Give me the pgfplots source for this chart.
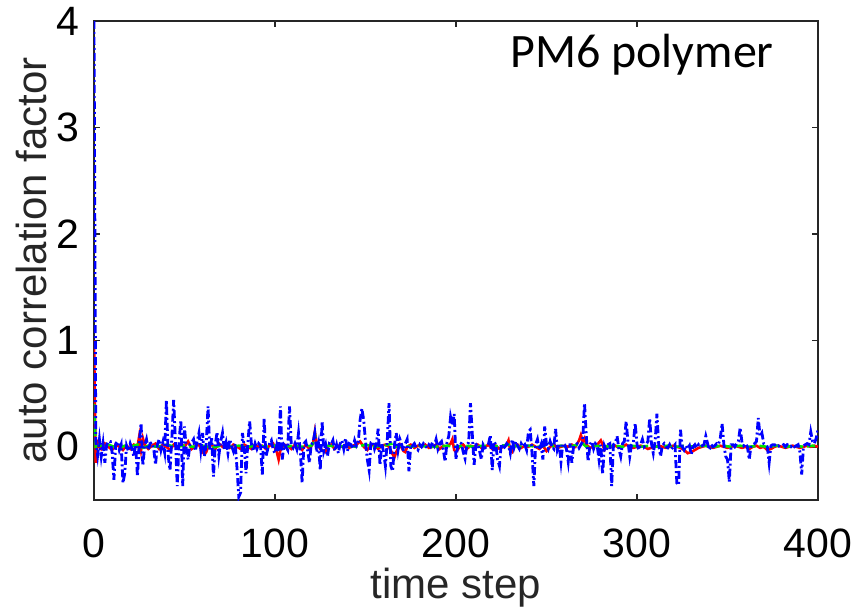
\documentclass[border=0pt]{standalone}
\usepackage{fontspec}
\setmainfont{Liberation Sans}
\newfontfamily\calibri{Carlito}
\usepackage{pgfplots}
\pgfplotsset{compat=1.18}
\definecolor{axgray}{HTML}{262626}
\begin{document}
\begin{tikzpicture}
\path[use as bounding box] (-47pt,-57.5pt) rectangle (381pt,250pt);
\begin{axis}[
  at={(0,0)}, anchor=south west,
  scale only axis, width=362pt, height=239.5pt,
  xmin=0, xmax=400, ymin=-0.5, ymax=4,
  xtick={0,100,200,300,400}, ytick={0,1,2,3,4},
  tick align=inside, major tick length=3pt,
  axis line style={color=axgray, line width=0.8pt},
  every tick/.style={color=axgray, line width=0.8pt},
  /pgf/number format/assume math mode=true,
  tick label style={font=\fontsize{20.5}{24}\selectfont, color=black},
  xticklabel style={yshift=-11pt},
  yticklabel style={xshift=-4pt},
  label style={font=\fontsize{21}{25}\selectfont, color=axgray},
  xlabel={time step}, ylabel={auto correlation factor},
  xlabel style={yshift=2pt},
  ylabel style={yshift=-2.5pt},
  clip=true,
]
\addplot[red, line width=1.3pt] coordinates {
(0,1.0)(1,-0.15)(2,0.04)(4,-0.02)(6,0.03)(8,0.0)(10,-0.03)(12,0.02)(14,0.0)(16,-0.03)(18,0.01)(20,-0.02)(22,0.02)(24,0.0)(25,0.1)(26,-0.03)(27,0.08)(28,0.02)(30,-0.02)(32,0.01)(34,0.03)(36,-0.02)(38,0.02)(40,0.0)(42,-0.03)(44,0.02)(46,-0.01)(48,0.03)(50,0.0)(52,0.05)(54,-0.02)(56,0.01)(58,0.02)(60,-0.05)(61,-0.07)(62,-0.05)(63,0.0)(65,0.02)(67,-0.02)(69,0.03)(71,0.0)(73,0.02)(75,-0.01)(77,0.02)(79,0.0)(81,-0.02)(83,0.02)(85,0.0)(87,-0.02)(89,0.02)(91,0.0)(93,0.01)(95,-0.02)(97,0.01)(99,0.03)(101,-0.05)(102,-0.12)(103,-0.03)(105,0.02)(107,0.01)(109,-0.02)(111,0.02)(113,0.0)(115,-0.03)(117,0.02)(119,-0.02)(121,0.03)(122,0.14)(123,0.04)(125,-0.02)(127,-0.04)(128,-0.05)(129,0.0)(131,0.02)(133,-0.02)(135,0.01)(137,0.0)(139,0.02)(141,-0.01)(143,0.01)(145,0.02)(147,0.05)(149,0.0)(151,-0.03)(153,0.02)(155,0.01)(157,-0.02)(159,0.01)(161,0.02)(163,0.0)(165,-0.07)(166,-0.1)(167,-0.05)(169,0.02)(171,-0.04)(172,-0.05)(173,0.0)(175,0.02)(177,-0.01)(179,0.01)(181,0.0)(183,0.02)(185,-0.01)(187,0.0)(189,0.02)(191,-0.02)(193,0.01)(195,0.0)(197,0.03)(198,0.07)(199,-0.03)(200,-0.05)(202,0.0)(204,0.02)(206,-0.02)(208,0.01)(210,0.0)(212,0.02)(214,-0.01)(216,0.0)(218,0.02)(220,-0.02)(222,0.01)(224,-0.02)(226,0.0)(228,0.02)(229,0.06)(230,-0.04)(231,-0.05)(232,0.0)(234,0.02)(236,-0.01)(238,0.01)(240,0.0)(242,0.02)(244,0.0)(246,-0.02)(248,0.01)(250,-0.04)(252,0.0)(254,0.02)(256,-0.01)(258,0.0)(260,0.01)(262,0.0)(264,0.02)(266,0.0)(268,0.06)(269,0.11)(270,0.05)(271,0.08)(272,0.02)(274,-0.01)(276,0.0)(278,0.02)(280,0.06)(281,0.02)(282,-0.03)(284,0.01)(286,0.0)(288,0.01)(290,-0.01)(292,0.0)(294,0.02)(296,0.0)(298,-0.01)(300,0.0)(302,0.01)(304,0.0)(306,-0.02)(308,-0.01)(310,0.0)(312,0.01)(314,0.0)(316,-0.01)(318,0.0)(320,0.01)(322,0.0)(324,-0.01)(326,-0.03)(328,-0.06)(330,-0.05)(332,-0.03)(334,-0.01)(336,0.0)(338,0.01)(340,0.0)(342,-0.01)(344,0.0)(346,0.01)(348,0.0)(350,-0.01)(352,0.0)(354,0.01)(356,0.0)(358,-0.01)(360,0.0)(362,-0.02)(364,0.0)(366,0.01)(368,-0.01)(370,0.0)(372,-0.03)(374,-0.02)(376,0.0)(378,0.01)(380,0.0)(382,-0.01)(384,0.0)(386,0.01)(388,0.0)(390,-0.01)(392,0.0)(394,0.01)(396,0.0)(398,0.01)(400,0.0)
};
\addplot[color={rgb,255:red,0;green,230;blue,0}, line width=1.3pt, dash pattern=on 4pt off 2pt] coordinates {
(0,0.4)(1,-0.02)(3,0.02)(5,0.0)(8,0.02)(11,0.0)(14,-0.01)(17,0.01)(20,0.0)(24,0.02)(27,-0.01)(30,0.01)(35,0.0)(40,0.02)(45,0.0)(50,0.01)(55,0.0)(60,0.01)(65,-0.01)(70,0.01)(75,0.0)(80,0.01)(85,0.0)(90,0.01)(95,0.0)(100,0.01)(105,0.0)(110,0.01)(115,0.0)(120,0.01)(121,0.03)(122,0.12)(123,0.03)(125,0.0)(130,0.01)(135,0.0)(140,0.01)(145,0.0)(150,0.02)(155,0.0)(160,0.01)(165,0.03)(166,0.0)(170,0.01)(175,0.0)(180,0.01)(185,0.0)(190,0.0)(195,0.01)(200,0.0)(205,0.01)(210,0.0)(215,0.01)(220,0.0)(225,0.01)(230,0.02)(235,0.0)(240,0.01)(245,0.0)(250,0.01)(252,0.04)(254,0.0)(258,0.01)(262,0.0)(268,0.02)(270,0.03)(272,0.0)(277,0.01)(282,0.0)(287,0.01)(292,0.0)(297,0.01)(302,0.0)(307,0.01)(312,0.0)(317,0.01)(322,0.0)(327,0.01)(332,0.0)(337,0.01)(342,0.0)(347,0.01)(352,0.0)(357,0.01)(362,0.0)(367,0.01)(372,0.0)(377,0.01)(382,0.0)(387,0.01)(392,0.0)(397,0.01)(400,0.0)
};
\addplot[blue, line width=1.4pt, dash pattern=on 4pt off 1.5pt on 1pt off 1.5pt] coordinates {
(0,4.0)(1,0.05)(2,-0.08)(3,0.07)(4,-0.09)(5,0.03)(6,-0.15)(7,0.02)(8,0.05)(9,0.05)(10,-0.05)(11,-0.31)(12,0.03)(13,0.05)(14,-0.03)(15,0.02)(16,-0.34)(17,-0.25)(18,0.01)(19,-0.04)(20,0.03)(21,-0.02)(22,-0.09)(23,0.02)(24,-0.28)(25,0.04)(26,0.22)(27,-0.18)(28,0.01)(29,0.07)(30,-0.03)(31,0.03)(32,0.04)(33,-0.02)(34,-0.17)(35,0.02)(36,0.07)(37,-0.03)(38,0.04)(39,-0.05)(40,0.44)(41,-0.09)(42,-0.22)(43,0.08)(44,0.44)(45,0.05)(46,-0.37)(47,0.06)(48,0.25)(49,-0.37)(50,0.19)(51,-0.03)(52,-0.12)(53,0.02)(54,0.04)(55,0.07)(56,-0.04)(57,0.05)(58,0.13)(59,-0.03)(60,0.13)(61,-0.09)(62,0.03)(63,0.38)(64,-0.04)(65,0.08)(66,-0.28)(67,0.02)(68,0.14)(69,-0.08)(70,0.05)(71,0.13)(72,-0.03)(73,0.04)(74,-0.06)(75,0.07)(76,0.01)(77,-0.04)(78,0.03)(79,-0.2)(80,-0.47)(81,-0.43)(82,0.13)(83,0.0)(84,-0.25)(85,0.04)(86,0.24)(87,0.02)(88,-0.04)(89,0.03)(90,-0.02)(91,0.03)(92,0.01)(93,-0.26)(94,0.27)(95,-0.09)(96,-0.02)(97,0.03)(98,0.06)(99,-0.03)(100,-0.06)(101,0.02)(102,-0.05)(103,0.38)(104,-0.12)(105,0.02)(106,0.0)(107,-0.03)(108,0.38)(109,0.02)(110,-0.01)(111,0.03)(112,-0.02)(113,0.13)(114,-0.05)(115,-0.34)(116,0.03)(117,0.05)(118,-0.03)(119,-0.15)(120,0.02)(121,0.04)(122,0.13)(123,-0.05)(124,0.03)(125,-0.22)(126,0.24)(127,-0.04)(128,0.02)(129,-0.09)(130,0.03)(131,0.02)(132,0.06)(133,-0.04)(134,0.02)(135,-0.06)(136,0.03)(137,0.06)(138,-0.02)(139,0.08)(140,-0.04)(141,0.03)(142,0.02)(143,-0.02)(144,0.06)(145,0.01)(146,0.04)(147,0.25)(148,0.36)(149,0.25)(150,0.05)(151,-0.12)(152,-0.22)(153,0.04)(154,0.05)(155,-0.02)(156,0.03)(157,0.17)(158,-0.17)(159,0.03)(160,-0.05)(161,-0.18)(162,0.05)(163,0.41)(164,-0.18)(165,-0.23)(166,0.02)(167,0.13)(168,-0.03)(169,0.07)(170,0.02)(171,-0.04)(172,0.03)(173,0.07)(174,-0.23)(175,0.02)(176,0.01)(177,0.03)(178,-0.01)(179,-0.03)(180,0.02)(181,0.0)(182,0.03)(183,0.01)(184,-0.01)(185,0.02)(186,0.0)(187,0.04)(188,0.01)(189,0.07)(190,-0.02)(191,0.03)(192,0.05)(193,-0.03)(194,-0.14)(195,0.04)(196,0.1)(197,0.28)(198,0.2)(199,0.31)(200,-0.12)(201,0.02)(202,0.04)(203,0.03)(204,-0.05)(205,-0.11)(206,0.02)(207,0.04)(208,0.41)(209,0.12)(210,-0.17)(211,0.02)(212,0.03)(213,-0.04)(214,-0.12)(215,0.02)(216,-0.01)(217,0.0)(218,0.03)(219,0.11)(220,-0.22)(221,0.05)(222,0.02)(223,-0.12)(224,-0.18)(225,0.03)(226,-0.02)(227,0.0)(228,0.03)(229,0.01)(230,-0.06)(231,0.07)(232,-0.01)(233,0.05)(234,0.01)(235,-0.02)(236,0.03)(237,0.0)(238,0.02)(239,-0.03)(240,0.14)(241,0.16)(242,-0.06)(243,-0.37)(244,0.02)(245,0.07)(246,-0.03)(247,0.02)(248,-0.12)(249,0.19)(250,0.02)(251,-0.02)(252,0.05)(253,0.0)(254,-0.02)(255,0.17)(256,-0.03)(257,0.02)(258,-0.14)(259,0.03)(260,0.02)(261,-0.02)(262,-0.14)(263,0.03)(264,-0.15)(265,0.01)(266,0.02)(267,0.03)(268,-0.01)(269,0.02)(270,0.05)(271,0.41)(272,0.1)(273,-0.14)(274,0.02)(275,0.05)(276,-0.02)(277,0.03)(278,0.01)(279,-0.12)(280,0.02)(281,-0.26)(282,0.01)(283,-0.03)(284,0.02)(285,0.03)(286,-0.37)(287,0.02)(288,0.04)(289,0.1)(290,-0.02)(291,-0.09)(292,0.03)(293,0.05)(294,0.24)(295,0.05)(296,-0.09)(297,0.02)(298,0.04)(299,0.22)(300,0.02)(301,-0.03)(302,0.02)(303,0.07)(304,0.0)(305,0.02)(306,0.05)(307,0.27)(308,0.03)(309,-0.06)(310,0.05)(311,0.31)(312,0.02)(313,-0.09)(314,0.01)(315,0.03)(316,0.0)(317,-0.01)(318,0.02)(319,-0.02)(320,0.0)(321,0.02)(322,-0.34)(323,-0.36)(324,0.16)(325,0.0)(326,-0.03)(327,0.01)(328,-0.02)(329,0.01)(330,-0.07)(331,0.0)(332,0.02)(333,-0.01)(334,0.02)(335,0.0)(336,0.01)(337,0.02)(338,0.1)(339,0.03)(340,-0.03)(341,0.02)(342,0.0)(343,0.01)(344,0.03)(345,0.02)(346,0.08)(347,0.22)(348,0.02)(349,-0.09)(350,-0.12)(351,-0.33)(352,0.02)(353,0.02)(354,0.0)(355,0.03)(356,0.05)(357,0.18)(358,0.04)(359,0.01)(360,0.03)(361,0.0)(362,-0.12)(363,0.01)(364,0.02)(365,0.03)(366,0.05)(367,0.27)(368,0.1)(369,0.13)(370,0.03)(371,0.02)(372,0.0)(373,-0.15)(374,0.01)(375,0.02)(376,0.02)(377,0.0)(378,0.01)(379,0.0)(380,0.01)(381,0.02)(382,0.0)(383,0.02)(384,0.01)(385,0.0)(386,0.02)(387,0.0)(388,0.01)(389,0.02)(390,-0.05)(391,-0.26)(392,0.01)(393,0.02)(394,0.03)(395,0.02)(396,0.14)(397,0.05)(398,0.03)(399,0.08)(400,0.16)
};
\node[font=\calibri\fontsize{24}{28}\selectfont, anchor=center] at (rel axis cs:0.757,0.929) {PM6 polymer};
\end{axis}
\end{tikzpicture}
\end{document}
